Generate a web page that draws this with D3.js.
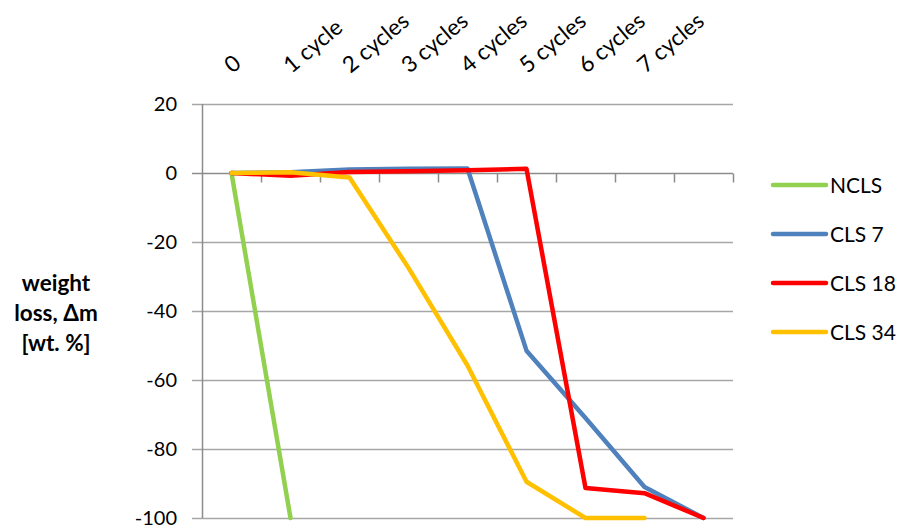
<!DOCTYPE html>
<html>
<head>
<meta charset="utf-8">
<script src="https://cdn.jsdelivr.net/npm/d3@7/dist/d3.min.js"></script>
<style>
  html, body { margin: 0; padding: 0; background: #fff; }
  svg { display: block; }
  text { font-family: Lato, "Open Sans", sans-serif; fill: #000; }
</style>
</head>
<body>
<svg id="chart" width="909" height="532"></svg>
<script>
// ---- data ----
const categories = ["0", "1 cycle", "2 cycles", "3 cycles", "4 cycles", "5 cycles", "6 cycles", "7 cycles", ""];
const yTicks = [20, 0, -20, -40, -60, -80, -100];
const seriesNames = ["NCLS", "CLS 7", "CLS 18", "CLS 34"];
const ncls  = [0, -100, null, null, null, null, null, null, null];
const cls7  = [0, 0.2, 1.0, 1.2, 1.3, -51.5, -71, -91, -100];
const cls18 = [0, -0.8, 0.3, 0.5, 0.8, 1.2, -91.3, -92.8, -100];
const cls34 = [0, 0.2, -1.3, -27.5, -55.8, -89.5, -100, -100, null];
const seriesColors = ["#92D050", "#4F81BD", "#FF0000", "#FFC000"];
const seriesValues = [ncls, cls7, cls18, cls34];

// ---- layout ----
const svg = d3.select("#chart");
const pLeft = 202, pRight = 733, pTop = 104, pBottom = 518;

const x = d3.scaleBand().domain(d3.range(categories.length)).range([pLeft, pRight]).paddingInner(0).paddingOuter(0);
const y = d3.scaleLinear().domain([-100, 20]).range([pBottom, pTop]);

const gridColor = "#A6A6A6";
const axisColor = "#8C8C8C";

// horizontal gridlines (+ left tick marks)
svg.append("g").selectAll("line").data(yTicks.filter(d => d !== 0)).join("line")
  .attr("x1", pLeft - 10).attr("x2", pRight)
  .attr("y1", d => Math.round(y(d)) + 0.5).attr("y2", d => Math.round(y(d)) + 0.5)
  .attr("stroke", gridColor).attr("stroke-width", 1.5);

// y axis line
svg.append("line")
  .attr("x1", pLeft + 0.5).attr("x2", pLeft + 0.5)
  .attr("y1", pTop).attr("y2", pBottom)
  .attr("stroke", axisColor).attr("stroke-width", 1.5);

// y tick labels
svg.append("g").selectAll("text").data(yTicks).join("text")
  .attr("x", pLeft - 25).attr("y", d => y(d))
  .attr("dy", "0.36em")
  .attr("text-anchor", "end")
  .attr("font-size", 20)
  .text(d => d);

// x axis at 0 (with its tick at left)
const y0 = Math.round(y(0)) + 0.5;
svg.append("line")
  .attr("x1", pLeft - 10).attr("x2", pRight)
  .attr("y1", y0).attr("y2", y0)
  .attr("stroke", axisColor).attr("stroke-width", 1.5);

// category tick marks (boundaries)
const boundaries = d3.range(1, categories.length + 1).map(i => pLeft + i * x.bandwidth());
svg.append("g").selectAll("line").data(boundaries).join("line")
  .attr("x1", d => Math.round(d) + 0.5).attr("x2", d => Math.round(d) + 0.5)
  .attr("y1", y0).attr("y2", y0 + 9)
  .attr("stroke", axisColor).attr("stroke-width", 1.5);

// category labels (rotated, at top)
svg.append("g").selectAll("text").data(categories).join("text")
  .attr("transform", (d, i) => `translate(${x(i) + x.bandwidth() / 2 + 1},74) rotate(-40)`)
  .attr("text-anchor", "start")
  .attr("font-size", 22.5)
  .text(d => d);

// series lines
const line = d3.line()
  .defined(d => d !== null)
  .x((d, i) => x(i) + x.bandwidth() / 2)
  .y(d => y(d));

svg.append("g").selectAll("path").data(seriesValues).join("path")
  .attr("d", d => line(d))
  .attr("fill", "none")
  .attr("stroke", (d, i) => seriesColors[i])
  .attr("stroke-width", 4.5)
  .attr("stroke-linejoin", "round")
  .attr("stroke-linecap", "round");

// legend
const legend = svg.append("g");
seriesNames.forEach((name, i) => {
  const ly = 185 + i * 49;
  legend.append("line")
    .attr("x1", 773).attr("x2", 826)
    .attr("y1", ly).attr("y2", ly)
    .attr("stroke", seriesColors[i]).attr("stroke-width", 4.5)
    .attr("stroke-linecap", "round");
  legend.append("text")
    .attr("x", 830).attr("y", ly).attr("dy", "0.36em")
    .attr("font-size", 21)
    .text(name);
});

// y axis title
const titleLines = ["weight", "loss, \u0394m", "[wt. %]"];
svg.append("g").selectAll("text").data(titleLines).join("text")
  .attr("x", 56).attr("y", (d, i) => 291 + i * 30)
  .attr("text-anchor", "middle")
  .attr("font-size", 22.5)
  .attr("font-weight", "bold")
  .text(d => d);
</script>
</body>
</html>
